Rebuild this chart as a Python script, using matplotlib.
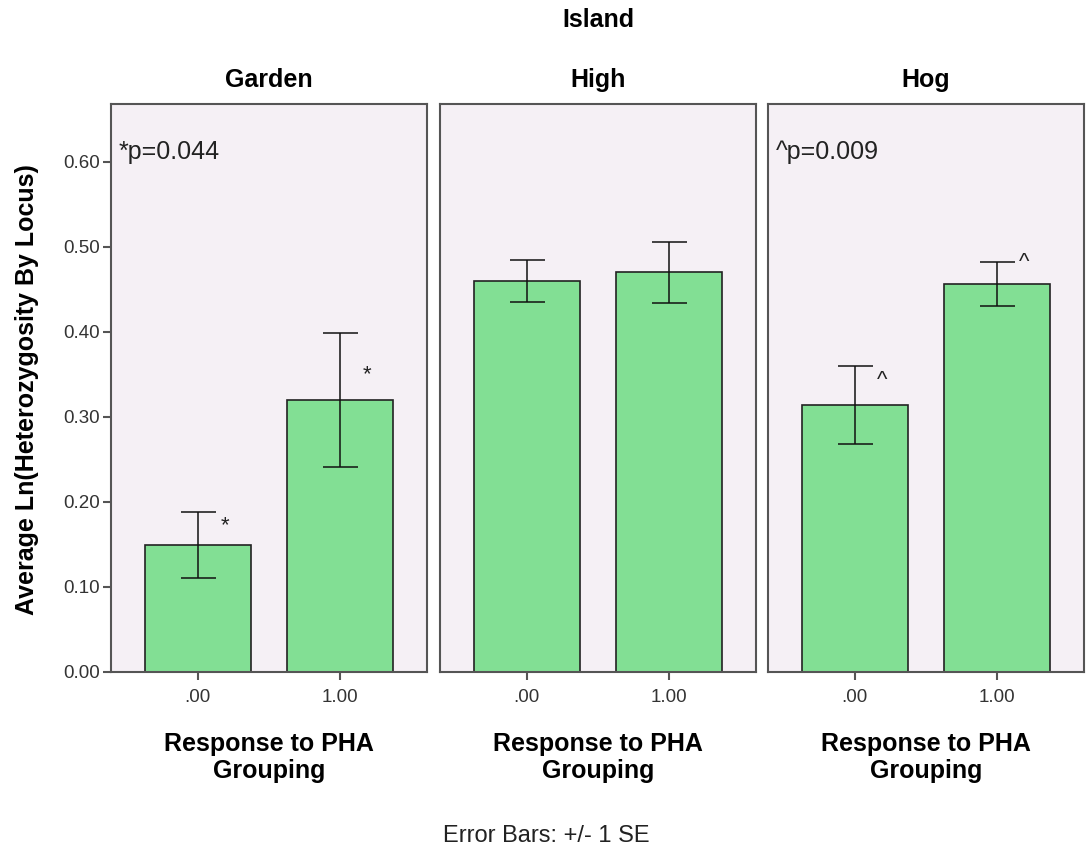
import matplotlib
matplotlib.use("Agg")
import matplotlib.pyplot as plt

plt.rcParams['font.family'] = ['Liberation Sans', 'DejaVu Sans']

# data
islands = ["Garden", "High", "Hog"]
groups = [".00", "1.00"]
means = {"Garden": [0.149, 0.320], "High": [0.460, 0.470], "Hog": [0.314, 0.456]}
ses = {"Garden": [0.039, 0.079], "High": [0.025, 0.036], "Hog": [0.046, 0.026]}
p_notes = {"Garden": "*p=0.044", "High": "", "Hog": "^p=0.009"}
marks = {"Garden": "*", "High": "", "Hog": "^"}
mark_heights = {"Garden": [0.172, 0.350], "High": [], "Hog": [0.343, 0.482]}
yticks = [0.0, 0.1, 0.2, 0.3, 0.4, 0.5, 0.6]

bar_color = '#82df94'
bg_color = '#f5f0f5'
frame_color = '#555555'

fig = plt.figure(figsize=(10.92, 8.5), dpi=100)
W, H = 1092, 850
panel_left = [111, 440, 768]
panel_w = 316
ax_bottom, ax_top = 672, 104

for i, isl in enumerate(islands):
    ax = fig.add_axes([panel_left[i] / W, 1 - ax_bottom / H, panel_w / W, (ax_bottom - ax_top) / H])
    ax.set_facecolor(bg_color)
    x = list(range(len(groups)))
    ax.bar(x, means[isl], width=0.746, color=bar_color, edgecolor='#222222', linewidth=1.2, zorder=2)
    ax.errorbar(x, means[isl], yerr=ses[isl], fmt='none', ecolor='#111111', elinewidth=1.1,
                capsize=12.6, capthick=1.1, zorder=3)
    ax.set_xlim(-0.61, 1.61)
    ax.set_ylim(0, 0.668)
    ax.set_xticks(x)
    ax.set_xticklabels(groups, fontsize=13.5, color='#333333')
    ax.tick_params(axis='x', length=6, width=1.5, color=frame_color, pad=6)
    for s in ax.spines.values():
        s.set_color(frame_color)
        s.set_linewidth(1.5)
    if i == 0:
        ax.set_yticks(yticks)
        ax.set_yticklabels([f"{v:.2f}" for v in yticks], fontsize=13.5, color='#333333')
        ax.tick_params(axis='y', length=6, width=1.5, color=frame_color, pad=2)
    else:
        ax.set_yticks([])
    ax.set_title(isl, fontsize=18, fontweight='bold', pad=12)
    ax.set_xlabel("Response to PHA\nGrouping", fontsize=18, fontweight='bold', labelpad=19,
                  linespacing=1.15)
    if p_notes[isl]:
        ax.text(0.025, 0.916, p_notes[isl], transform=ax.transAxes, fontsize=18, color='#222222',
                ha='left', va='center')
    for xi, h in enumerate(mark_heights[isl]):
        ax.text(xi + 0.19, h, marks[isl], fontsize=16, color='#222222', ha='center', va='center')

fig.text(27 / W, 1 - 390 / H, "Average Ln(Heterozygosity By Locus)", rotation=90, ha='center',
         va='center', fontsize=18, fontweight='bold')
fig.text(598 / W, 1 - 20 / H, "Island", ha='center', va='center', fontsize=18, fontweight='bold')
fig.text(546 / W, 1 - 836 / H, "Error Bars: +/- 1 SE", ha='center', va='center', fontsize=17,
         color='#222222')

fig.savefig("out.png", dpi=100)
